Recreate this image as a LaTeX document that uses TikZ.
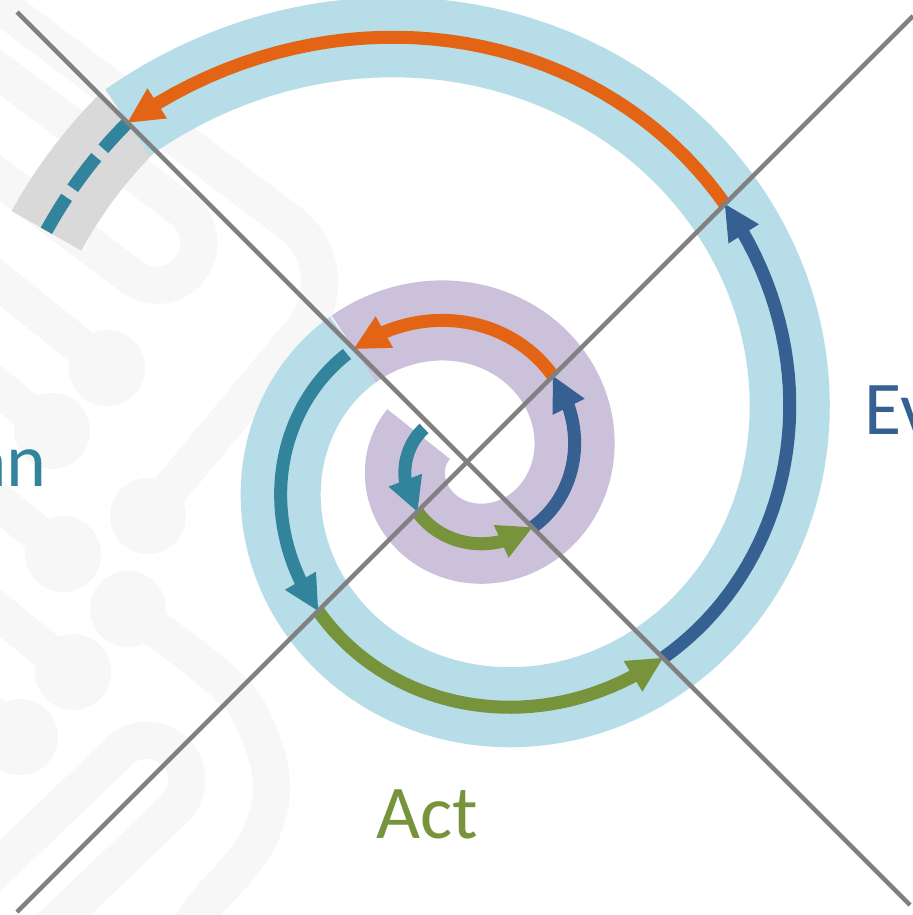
\documentclass[tikz,border=0pt]{standalone}
\usepackage{fontspec}
\setmainfont{Carlito}
\usetikzlibrary{calc}

\definecolor{bandblue}{HTML}{B7DDE8}
\definecolor{bandpurple}{HTML}{CCC1DA}
\definecolor{bandgray}{HTML}{D9D9D9}
\definecolor{cOrange}{HTML}{E36414}
\definecolor{cBlue}{HTML}{366092}
\definecolor{cTeal}{HTML}{31849B}
\definecolor{cGreen}{HTML}{77933C}
\definecolor{axisgray}{HTML}{808080}
\definecolor{traceg}{HTML}{F7F7F7}

% radius of the spiral centre line (angle in degrees, growth x3 per turn)
\pgfmathdeclarefunction{sr}{1}{\pgfmathparse{160*exp(0.0030517*(#1-495))}}

% arrow along the spiral: colour, start angle, end angle, name
\newcommand\sarrow[4]{%
  \pgfmathsetmacro\hdA{35/sr(#3)*57.29578}%
  \pgfmathsetmacro\shE{#3-0.5*\hdA}%
  \pgfmathsetmacro\bA{#3-\hdA}%
  \draw[arrowline,color=#1] plot[domain=#2:\shE,samples=40,variable=\t]
    ({467+sr(\t)*cos(\t)},{462-sr(\t)*sin(\t)});
  \coordinate (#4-tip) at ({467+sr(#3)*cos(#3)},{462-sr(#3)*sin(#3)});
  \coordinate (#4-base) at ({467+sr(\bA)*cos(\bA)},{462-sr(\bA)*sin(\bA)});
  \fill[color=#1] (#4-tip) -- ($(#4-base)!0.18cm!90:(#4-tip)$)
    -- ($(#4-base)!0.18cm!-90:(#4-tip)$) -- cycle;
}

\begin{document}
\begin{tikzpicture}[x=0.01cm,y=-0.01cm,
  trace/.style={draw=traceg,line width=0.37cm},
  pad/.style={fill=traceg},
  band/.style={line width=0.8cm,line join=round},
  arrowline/.style={line width=0.13cm,line join=round},
  axisline/.style={draw=axisgray,line width=0.045cm},
  label/.style={font=\fontsize{21.6}{26}\selectfont,inner sep=0pt}]
\useasboundingbox (0,0) rectangle (913,915);
\fill[white] (0,0) rectangle (913,915);

% circuit traces in the background
\draw[trace,rounded corners=0.8cm] (-20,-10) -- (353,270) -- (148,516);
\draw[trace,rounded corners=0.42cm] (-20,57) -- (215.6,234.2) -- (165.6,302.2) -- (-20,163);
\draw[trace,rounded corners=0.40cm] (40.7,937) -- (203.4,781.2) -- (148.2,723.6) -- (-20,885);
\draw[trace] plot[smooth] coordinates {(128,609) (200,662) (245,705) (268,760) (271,800) (258,840) (235,872) (205,905) (185,935)};
\draw[trace] (107,368) -- (-20,266);
\draw[trace] (52,431) -- (-20,373);
\draw[trace] (63,554) -- (-20,487);
\draw[trace] (73,672) -- (-20,597);
\draw[trace] (20,737) -- (-20,705);
\foreach \px/\py in {107/368,52/431,148/516,63/554,128/609,73/672,20/737}
  \fill[pad] (\px,\py) circle[radius=38];

% spiral bands
\draw[band,color=bandgray] plot[domain=0:16.2,samples=10,variable=\t]
  ({467+480*cos(855+\t)},{462-480*sin(855+\t)});
\draw[band,color=bandblue] plot[domain=495:855,samples=145,variable=\t]
  ({467+sr(\t)*cos(\t)},{462-sr(\t)*sin(\t)});
\draw[band,color=bandpurple] plot[domain=150:495,samples=120,variable=\t]
  ({467+sr(\t)*cos(\t)},{462-sr(\t)*sin(\t)});

% inner turn
\sarrow{cTeal}{142}{225}{ip}
\sarrow{cGreen}{225}{315}{ia}
\sarrow{cBlue}{315}{405}{ie}
\sarrow{cOrange}{405}{495}{ir}
% outer turn
\sarrow{cTeal}{498}{585}{op}
\sarrow{cGreen}{585}{675}{oa}
\sarrow{cBlue}{675}{765}{oe}
\sarrow{cOrange}{765}{855}{or}
\draw[arrowline,color=cTeal,dash pattern=on 0.39cm off 0.11cm]
  plot[domain=0:16.2,samples=12,variable=\t]
  ({467+480*cos(871.2-\t)},{462-480*sin(871.2-\t)});

% quadrant axes
\coordinate (d1a) at (17,12);
\coordinate (d1b) at (910,905);
\coordinate (d2a) at (17,912);
\coordinate (d2b) at (913,16);
\draw[axisline] (d1a) -- (d1b);
\draw[axisline] (d2a) -- (d2b);

% labels
\node[label,text=cGreen,anchor=base west] (act) at (376,838) {Act};
\node[label,text=cBlue,anchor=base west] (ev) at (864,434) {Ev};
\node[label,text=cTeal,anchor=base east] (pl) at (47,486) {an};
\end{tikzpicture}
\end{document}
